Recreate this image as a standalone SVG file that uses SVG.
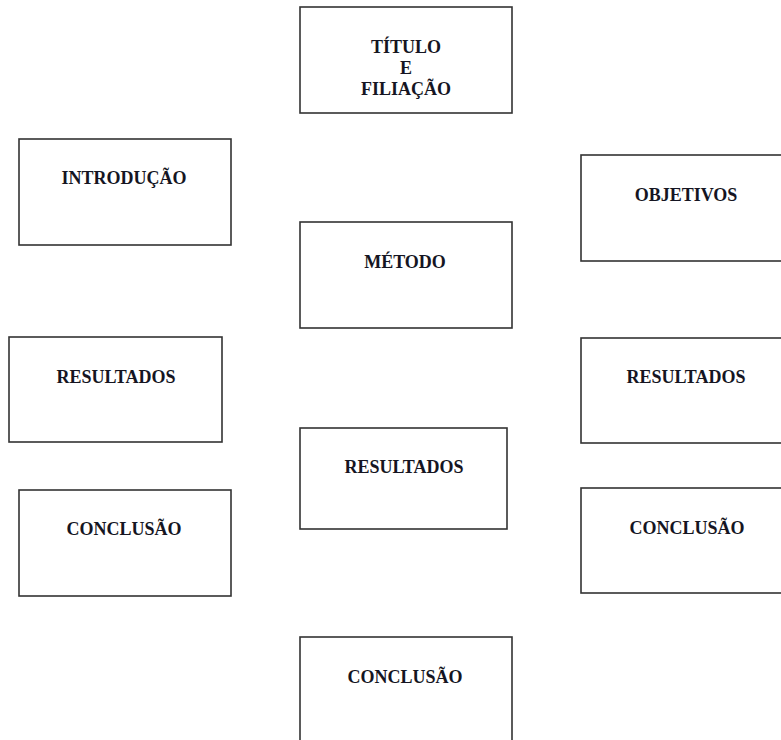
<svg xmlns="http://www.w3.org/2000/svg" width="781" height="740" viewBox="0 0 781 740">
<style>
.box{fill:#fff;stroke:#333;stroke-width:1.6}
.lbl{font-family:"Liberation Serif","Times New Roman",serif;font-weight:bold;font-size:18px;fill:#151522;text-anchor:middle}
</style>
<rect width="781" height="740" fill="#fff"/>
<g id="connectors"></g>
<g id="titulo"><rect class="box" x="300" y="7" width="212" height="106"/>
<text class="lbl" x="406" y="53">TÍTULO</text><text class="lbl" x="406" y="74">E</text><text class="lbl" x="406" y="95">FILIAÇÃO</text></g>
<g id="introducao"><rect class="box" x="19" y="139" width="212" height="106"/><text class="lbl" x="124" y="184">INTRODUÇÃO</text></g>
<g id="objetivos"><rect class="box" x="581" y="155" width="212" height="106"/><text class="lbl" x="686" y="201">OBJETIVOS</text></g>
<g id="metodo"><rect class="box" x="300" y="222" width="212" height="106"/><text class="lbl" x="405" y="268">MÉTODO</text></g>
<g id="resultados-esq"><rect class="box" x="9" y="337" width="213" height="105"/><text class="lbl" x="116" y="383">RESULTADOS</text></g>
<g id="resultados-dir"><rect class="box" x="581" y="338" width="212" height="105"/><text class="lbl" x="686" y="383">RESULTADOS</text></g>
<g id="resultados-centro"><rect class="box" x="300" y="428" width="207" height="101"/><text class="lbl" x="404" y="473">RESULTADOS</text></g>
<g id="conclusao-esq"><rect class="box" x="19" y="490" width="212" height="106"/><text class="lbl" x="124" y="535">CONCLUSÃO</text></g>
<g id="conclusao-dir"><rect class="box" x="581" y="488" width="212" height="105"/><text class="lbl" x="687" y="534">CONCLUSÃO</text></g>
<g id="conclusao-centro"><rect class="box" x="300" y="637" width="212" height="120"/><text class="lbl" x="405" y="683">CONCLUSÃO</text></g>
</svg>
